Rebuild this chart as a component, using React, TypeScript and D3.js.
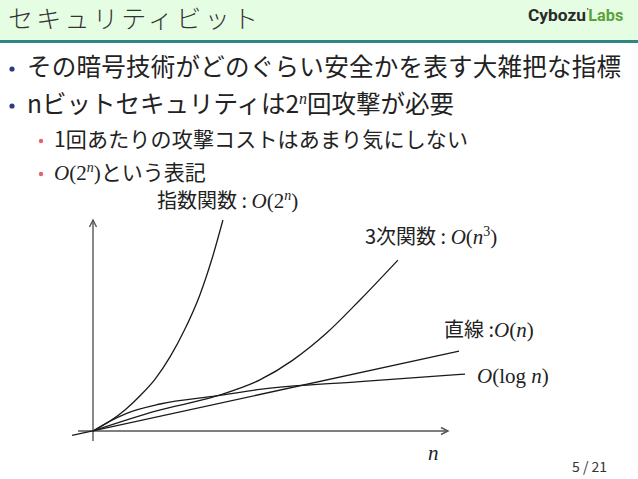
import React from "react";
import * as d3 from "d3";

// Curve points (x: n, y: cost), arbitrary units
const expX = [0, 0.48, 0.9, 1.32, 1.75, 2.17, 2.59, 3.01, 3.35, 3.66];
const expY = [0, 0.47, 1.0, 1.66, 2.46, 3.51, 4.83, 6.45, 8.15, 10.0];
const cubicX = [0, 1.79, 3.48, 4.7, 5.63, 6.58, 7.52, 8.59];
const cubicY = [0, 0.95, 1.66, 2.42, 3.36, 4.64, 6.21, 8.1];
const logX = [0, 0.48, 0.95, 1.89, 3.48, 4.7, 7.52, 10.48];
const logY = [0, 0.47, 0.84, 1.28, 1.66, 1.97, 2.34, 2.7];
const linX = [-0.59, 10.31];
const linY = [-0.21, 3.79];

const JP = "'Noto Sans CJK JP', 'Noto Sans', sans-serif";
const MATHI = "'Liberation Serif', 'DejaVu Serif', serif";

export default function App() {
  const x = d3.scaleLinear().domain([0, 10]).range([93, 448]);
  const y = d3.scaleLinear().domain([0, 10]).range([431, 220]);
  const line = d3
    .line<[number, number]>()
    .x((d) => x(d[0]))
    .y((d) => y(d[1]))
    .curve(d3.curveMonotoneX);
  const zip = (a: number[], b: number[]) => a.map((v, i) => [v, b[i]] as [number, number]);
  const series = [zip(expX, expY), zip(cubicX, cubicY), zip(logX, logY), zip(linX, linY)];

  const ax0 = x(0);
  const ay0 = y(0);
  const xEnd = x(10);
  const yEnd = y(10);
  const M = 21;

  return (
    <svg
      width={638}
      height={479}
      style={{ position: "absolute", left: 0, top: 0, background: "#fff" }}
    >
      {/* title bar */}
      <rect x={0} y={0} width={638} height={40} fill="#E5FEE3" />
      <rect x={0} y={40} width={638} height={3} fill="#2F8582" />
      <text x={8} y={28} fontFamily={JP} fontSize={25} fill="#333" fontWeight={300} textLength={250} lengthAdjust="spacing">
        セキュリティビット
      </text>
      <text x={528} y={21} fontFamily="'Roboto', 'Liberation Sans', sans-serif" fontWeight={700} fontSize={17}>
        <tspan fill="#2a2a2a" textLength={58} lengthAdjust="spacingAndGlyphs">Cybozu</tspan>
        <tspan fill="#2a2a2a" fontSize={8} dy={-7} dx={1}>'</tspan>
        <tspan fill="#5BA23A" dy={7} dx={0} textLength={35} lengthAdjust="spacingAndGlyphs">Labs</tspan>
      </text>

      {/* bullets */}
      <circle cx={12} cy={69} r={2.6} fill="#2E3A7A" />
      <text x={27} y={76} fontFamily={JP} fontSize={24.5} fill="#222" textLength={594} lengthAdjust="spacing">
        その暗号技術がどのぐらい安全かを表す大雑把な指標
      </text>
      <circle cx={12} cy={106} r={2.6} fill="#2E3A7A" />
      <text x={27} y={113} fontFamily={JP} fontSize={24.5} fill="#222">
        <tspan>nビットセキュリティは2</tspan>
        <tspan fontFamily={MATHI} fontStyle="italic" fontSize={16} dy={-9}>n</tspan>
        <tspan dy={9}>回攻撃が必要</tspan>
      </text>
      <circle cx={41} cy={141} r={2.2} fill="#E06666" />
      <text x={54} y={147} fontFamily={JP} fontSize={21} fill="#222" textLength={414} lengthAdjust="spacing">
        1回あたりの攻撃コストはあまり気にしない
      </text>
      <circle cx={41} cy={174} r={2.2} fill="#E06666" />
      <text x={54} y={180} fontFamily={JP} fontSize={21} fill="#222">
        <tspan fontFamily={MATHI} fontStyle="italic" fontSize={M}>O</tspan>
        <tspan fontFamily={MATHI} fontSize={M}>(2</tspan>
        <tspan fontFamily={MATHI} fontStyle="italic" fontSize={14} dy={-8}>n</tspan>
        <tspan fontFamily={MATHI} fontSize={M} dy={8}>)</tspan>
        <tspan>という表記</tspan>
      </text>

      {/* axes */}
      <g stroke="#555" strokeWidth={1.4} fill="none">
        <line x1={x(-0.42)} y1={ay0} x2={xEnd} y2={ay0} />
        <polyline points={`${xEnd - 7},${ay0 - 3.5} ${xEnd},${ay0} ${xEnd - 7},${ay0 + 3.5}`} />
        <line x1={ax0} y1={y(-0.47)} x2={ax0} y2={yEnd} />
        <polyline points={`${ax0 - 3.5},${yEnd + 7} ${ax0},${yEnd} ${ax0 + 3.5},${yEnd + 7}`} />
      </g>

      {/* curves */}
      <g stroke="#1a1a1a" strokeWidth={1.3} fill="none">
        {series.map((s, i) => (
          <path key={i} d={line(s) || ""} />
        ))}
      </g>

      {/* labels */}
      <text x={157} y={208} fontFamily={JP} fontSize={20} fill="#222">
        <tspan>指数関数 : </tspan>
        <tspan fontFamily={MATHI} fontStyle="italic" fontSize={M}>O</tspan>
        <tspan fontFamily={MATHI} fontSize={M}>(2</tspan>
        <tspan fontFamily={MATHI} fontStyle="italic" fontSize={14} dy={-8}>n</tspan>
        <tspan fontFamily={MATHI} fontSize={M} dy={8}>)</tspan>
      </text>
      <text x={365} y={244} fontFamily={JP} fontSize={20} fill="#222">
        <tspan>3次関数 : </tspan>
        <tspan fontFamily={MATHI} fontStyle="italic" fontSize={M}>O</tspan>
        <tspan fontFamily={MATHI} fontSize={M}>(</tspan>
        <tspan fontFamily={MATHI} fontStyle="italic" fontSize={M}>n</tspan>
        <tspan fontFamily={MATHI} fontSize={14} dy={-8}>3</tspan>
        <tspan fontFamily={MATHI} fontSize={M} dy={8}>)</tspan>
      </text>
      <text x={444} y={337} fontFamily={JP} fontSize={20} fill="#222">
        <tspan>直線 :</tspan>
        <tspan fontFamily={MATHI} fontStyle="italic" fontSize={M}>O</tspan>
        <tspan fontFamily={MATHI} fontSize={M}>(</tspan>
        <tspan fontFamily={MATHI} fontStyle="italic" fontSize={M}>n</tspan>
        <tspan fontFamily={MATHI} fontSize={M}>)</tspan>
      </text>
      <text x={477} y={383} fontFamily={MATHI} fontSize={M} fill="#222">
        <tspan fontStyle="italic">O</tspan>
        <tspan>(log </tspan>
        <tspan fontStyle="italic">n</tspan>
        <tspan>)</tspan>
      </text>
      <text x={428} y={460} fontFamily={MATHI} fontStyle="italic" fontSize={M} fill="#222">
        n
      </text>

      <text x={572} y={472} fontFamily={JP} fontSize={14} fill="#333">
        5 / 21
      </text>
    </svg>
  );
}
